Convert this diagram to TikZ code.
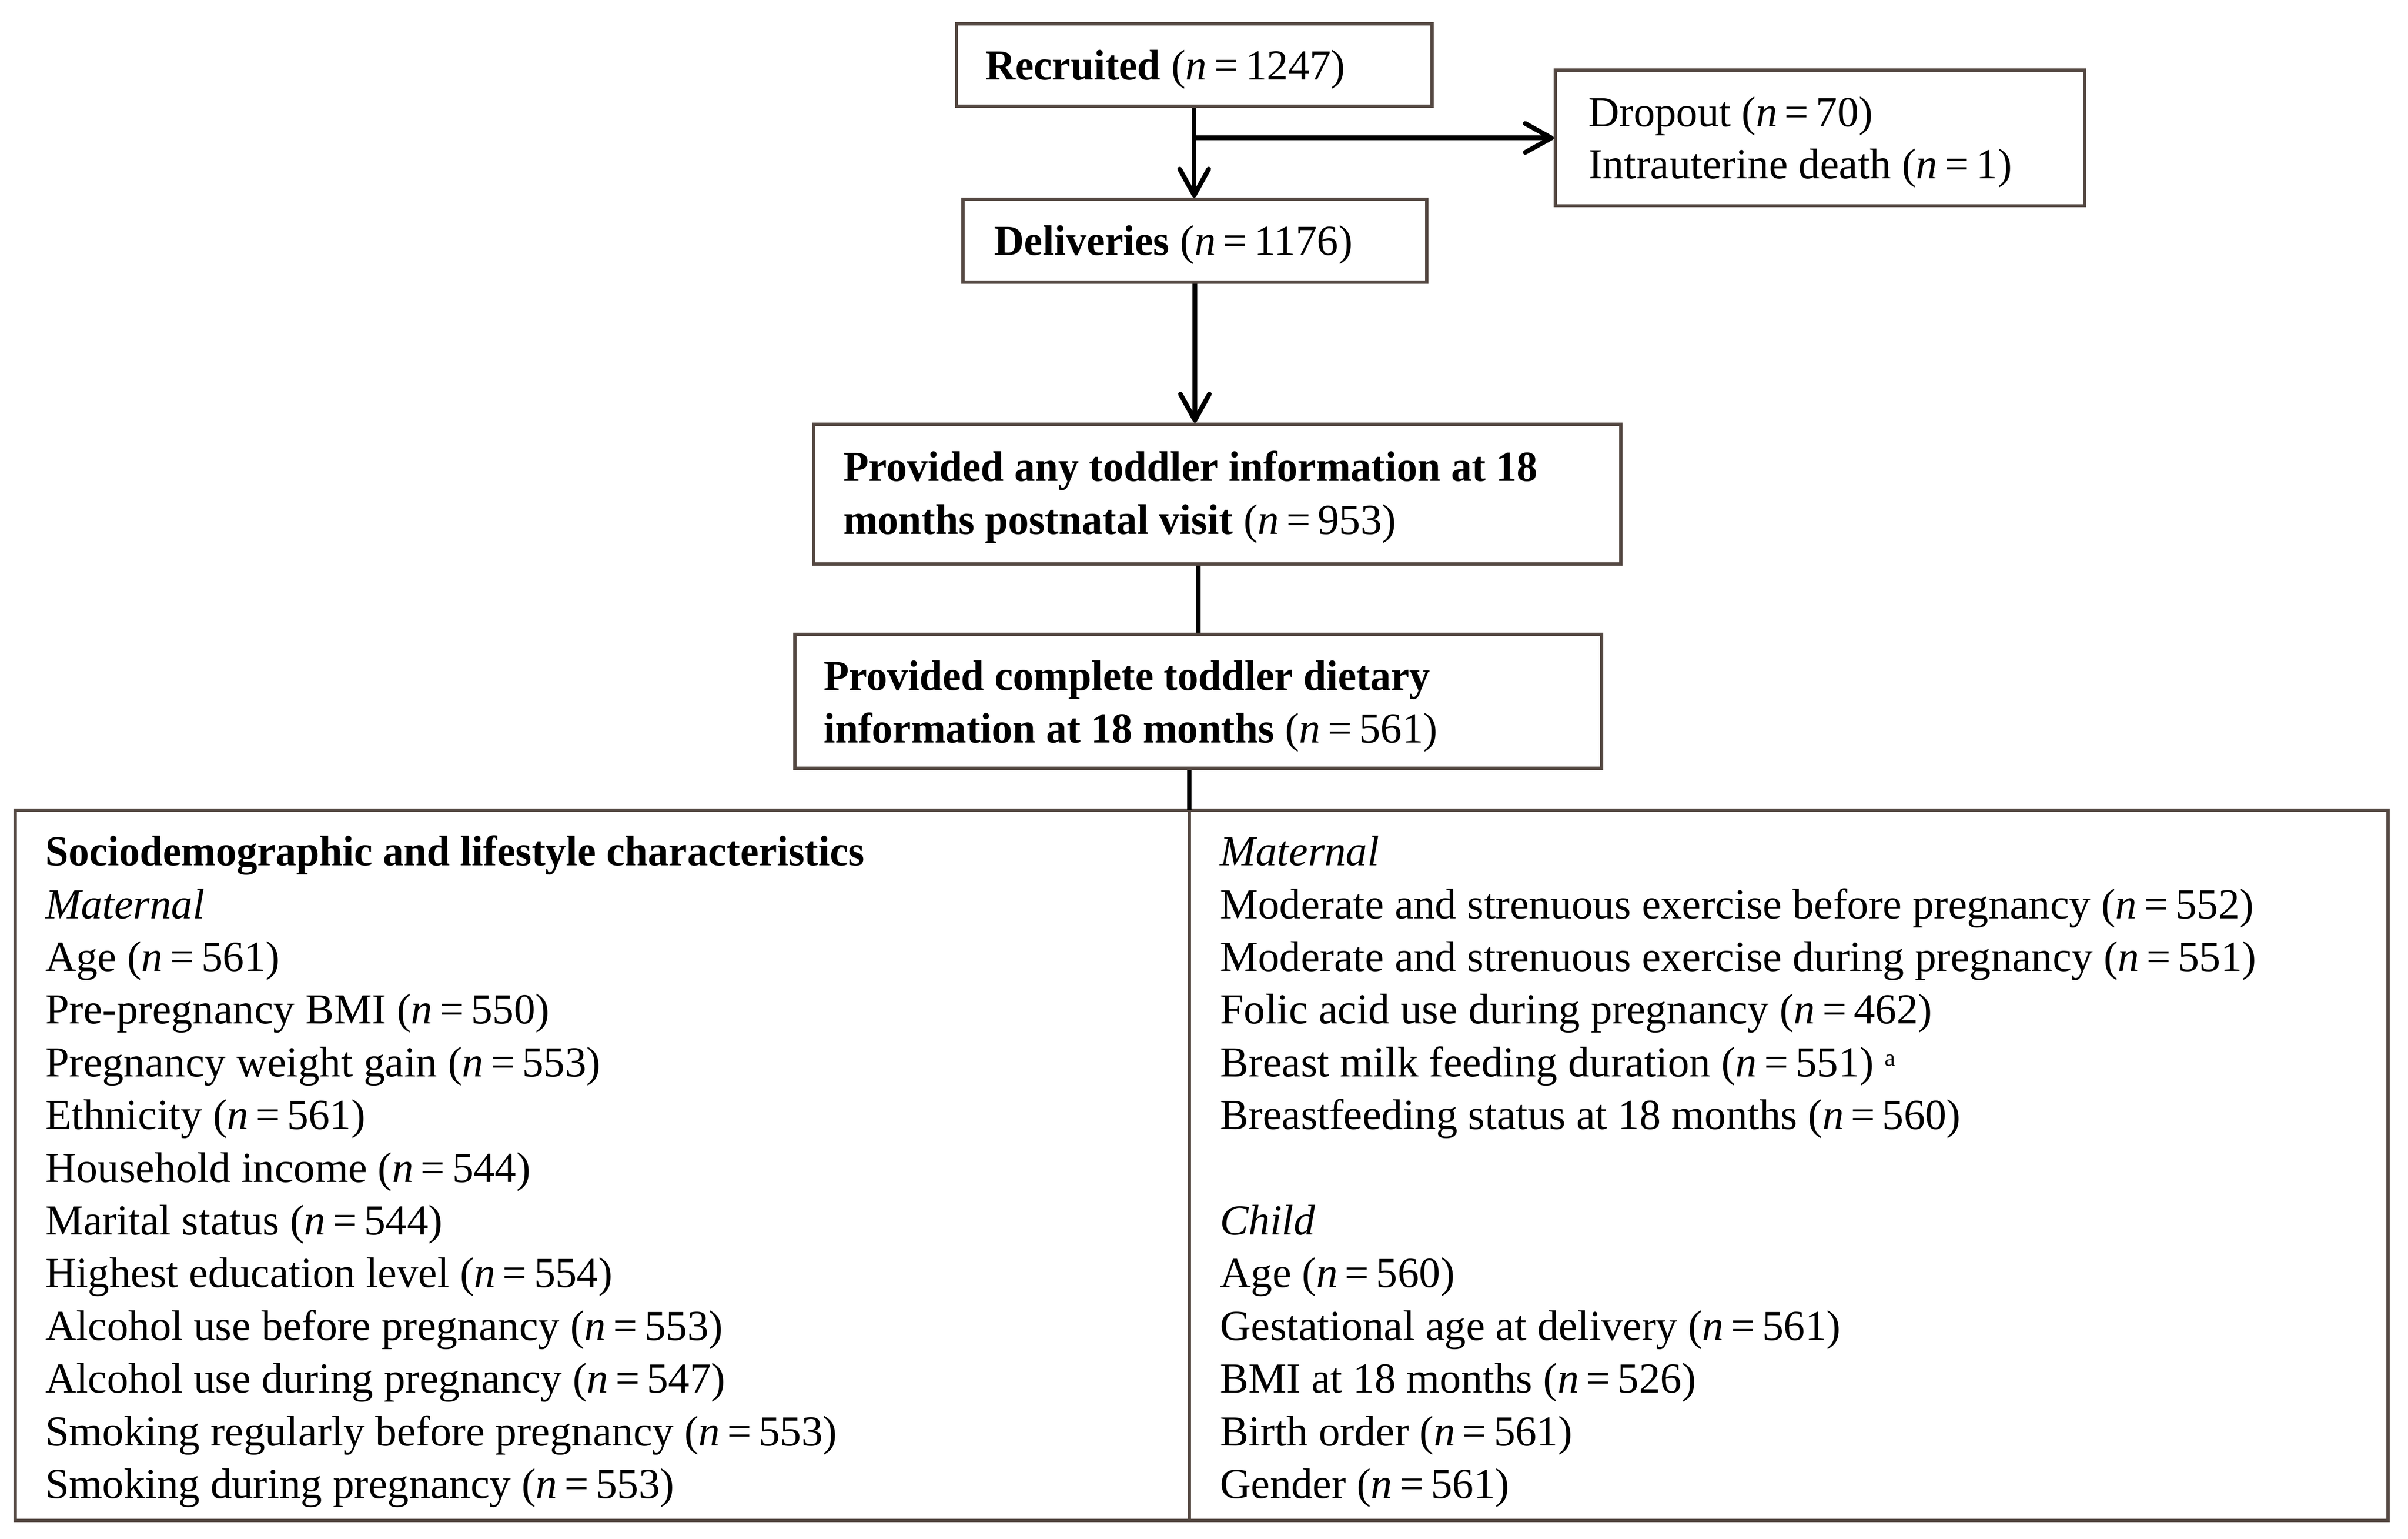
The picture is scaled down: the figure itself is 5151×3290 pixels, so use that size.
\documentclass[tikz,border=0pt]{standalone}
\usepackage{fontspec}
\setmainfont{Liberation Serif}[BoldFeatures={FakeStretch=0.97}]
\usetikzlibrary{arrows.meta}
\definecolor{boxc}{RGB}{84,72,66}
\newcommand{\nval}[1]{(\textit{n}\hspace{0.17em}=\hspace{0.17em}#1)}
\begin{document}
\begin{tikzpicture}[x=0.1pt,y=-0.1pt,
  box/.style={draw=boxc, line width=0.7pt, inner sep=0pt, fill=none},
  txt/.style={anchor=base west, inner sep=0pt, outer sep=0pt, font=\fontsize{9.15}{11.27}\selectfont},
  arr/.style={draw=black, line width=1pt, -{Straight Barb[length=5.6pt,width=6.2pt,round]}},
  conn/.style={draw=black, line width=1pt}]
\useasboundingbox (0,0) rectangle (5151,3290);

% boxes
\node[box, minimum width=101.7pt, minimum height=17.6pt] (rec) at (2554.5,139) {};
\node[box, minimum width=113.2pt, minimum height=29pt] (drop) at (3893,295) {};
\node[box, minimum width=99.2pt, minimum height=17.7pt] (del) at (2556,514.5) {};
\node[box, minimum width=172.7pt, minimum height=29.9pt] (any) at (2603.5,1056.5) {};
\node[box, minimum width=172.6pt, minimum height=28.7pt] (comp) at (2563,1499.5) {};
\node[box, minimum width=507.6pt, minimum height=151.9pt] (big) at (2570,2491.5) {};
\coordinate (divtop) at (2544,1732);
\coordinate (divbot) at (2544,3251);

% texts in flow boxes
\node[txt] (trec) at (2108,170) {\textbf{Recruited} \nval{1247}};
\node[txt] (tdrop1) at (3398,270) {Dropout \nval{70}};
\node[txt] (tdrop2) at (3398,382) {Intrauterine death \nval{1}};
\node[txt] (tdel) at (2127,546) {\textbf{Deliveries} \nval{1176}};
\node[txt] (tany1) at (1804,1029) {\textbf{Provided any toddler information at 18}};
\node[txt] (tany2) at (1804,1142) {\textbf{months postnatal visit} \nval{953}};
\node[txt] (tcomp1) at (1762,1476) {\textbf{Provided complete toddler dietary}};
\node[txt] (tcomp2) at (1762,1588) {\textbf{information at 18 months} \nval{561}};

% connectors
\draw[arr] (rec.south) -- (rec.south |- del.north);
\draw[arr] (drop.west -| rec.south) -- (drop.west);
\draw[arr] (del.south) -- (del.south |- any.north);
\draw[conn] (comp.north) -- (comp.north |- any.south);
\draw[conn] (comp.south -| divtop) -- (divtop);
\draw[draw=boxc, line width=0.8pt] (divtop) -- (divbot);

% left column
\node[txt] (l1) at (97,1851) {\textbf{Sociodemographic and lifestyle characteristics}};
\node[txt] (l2) at (97,1963.7) {\textit{Maternal}};
\node[txt] (l3) at (97,2076.4) {Age \nval{561}};
\node[txt] (l4) at (97,2189.1) {Pre-pregnancy BMI \nval{550}};
\node[txt] (l5) at (97,2301.8) {Pregnancy weight gain \nval{553}};
\node[txt] (l6) at (97,2414.5) {Ethnicity \nval{561}};
\node[txt] (l7) at (97,2527.2) {Household income \nval{544}};
\node[txt] (l8) at (97,2639.9) {Marital status \nval{544}};
\node[txt] (l9) at (97,2752.6) {Highest education level \nval{554}};
\node[txt] (l10) at (97,2865.3) {Alcohol use before pregnancy \nval{553}};
\node[txt] (l11) at (97,2978) {Alcohol use during pregnancy \nval{547}};
\node[txt] (l12) at (97,3090.7) {Smoking regularly before pregnancy \nval{553}};
\node[txt] (l13) at (97,3203.4) {Smoking during pregnancy \nval{553}};

% right column
\node[txt] (r1) at (2610,1851) {\textit{Maternal}};
\node[txt] (r2) at (2610,1963.7) {Moderate and strenuous exercise before pregnancy \nval{552}};
\node[txt] (r3) at (2610,2076.4) {Moderate and strenuous exercise during pregnancy \nval{551}};
\node[txt] (r4) at (2610,2189.1) {Folic acid use during pregnancy \nval{462}};
\node[txt] (r5) at (2610,2301.8) {Breast milk feeding duration \nval{551} \raisebox{2.2pt}{\fontsize{5.2}{6}\selectfont a}};
\node[txt] (r6) at (2610,2414.5) {Breastfeeding status at 18 months \nval{560}};
\node[txt] (r8) at (2610,2639.9) {\textit{Child}};
\node[txt] (r9) at (2610,2752.6) {Age \nval{560}};
\node[txt] (r10) at (2610,2865.3) {Gestational age at delivery \nval{561}};
\node[txt] (r11) at (2610,2978) {BMI at 18 months \nval{526}};
\node[txt] (r12) at (2610,3090.7) {Birth order \nval{561}};
\node[txt] (r13) at (2610,3203.4) {Gender \nval{561}};
\end{tikzpicture}
\end{document}
